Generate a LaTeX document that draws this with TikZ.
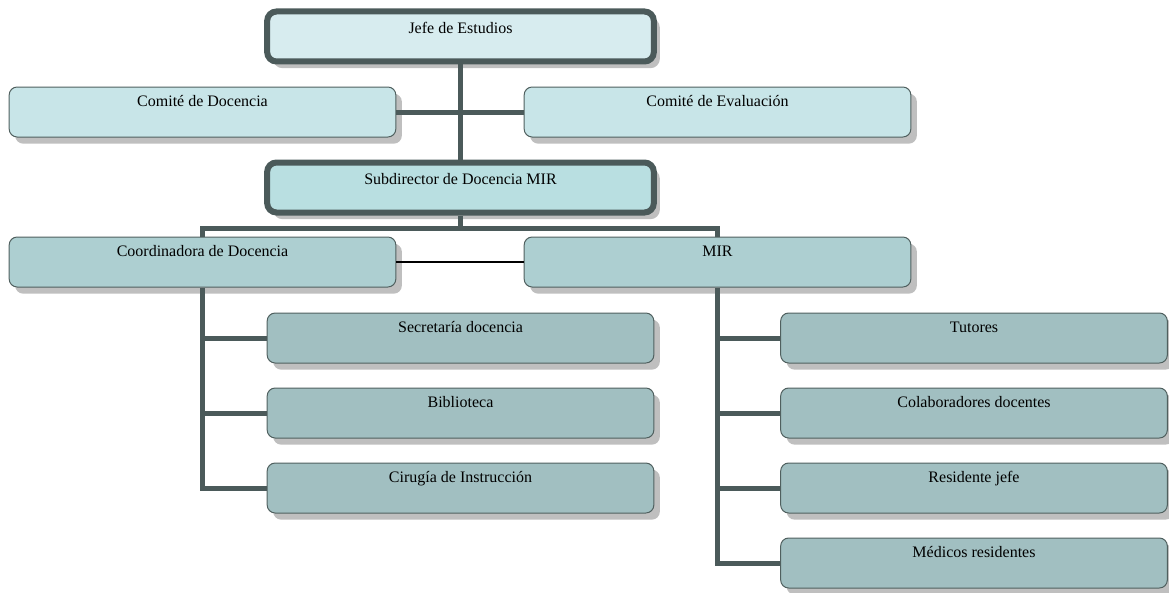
\documentclass[tikz,border=0pt]{standalone}
\usepackage{fontspec}
\setmainfont{Liberation Serif}
\usetikzlibrary{shadows}

\begin{document}
\begin{tikzpicture}[x=0.75pt,y=-0.75pt,
  box/.style={draw=frame,line width=0.75pt,rounded corners=6pt,
    minimum width=290pt,minimum height=37.5pt,inner xsep=0pt,inner ysep=4.25pt,
    text height=10pt,text depth=19pt,font=\fontsize{12}{14}\selectfont,
    drop shadow={shadow xshift=4.5pt,shadow yshift=-5pt,fill=black!25,opacity=1}},
  head/.style={box,draw=border,line width=4.5pt,rounded corners=7pt,
    text height=12pt,text depth=17pt},
  link/.style={draw=border,line width=3.75pt}]
  \definecolor{frame}{HTML}{50605F}
  \definecolor{border}{HTML}{4B5A5A}
  \definecolor{jefe}{HTML}{D7ECEF}
  \definecolor{comite}{HTML}{C8E5E8}
  \definecolor{subdir}{HTML}{B9DFE1}
  \definecolor{coord}{HTML}{ADCFD1}
  \definecolor{area}{HTML}{A1BFC1}

  \useasboundingbox (0,0) rectangle (1169,592);

  \node [head,fill=jefe]   (jefe) at (460.5,36.5) {Jefe de Estudios};
  \node [box,fill=comite]  (cdoc) at (202.5,112)  {Comité de Docencia};
  \node [box,fill=comite]  (ceva) at (717.5,112)  {Comité de Evaluación};
  \node [head,fill=subdir] (sub)  at (460.5,187.5) {Subdirector de Docencia MIR};
  \node [box,fill=coord]   (coord) at (202.5,262) {Coordinadora de Docencia};
  \node [box,fill=coord]   (mir)  at (717.5,262)  {MIR};

  \node [box,fill=area] (secr) at (460.5,338) {Secretaría docencia};
  \node [box,fill=area] (bibl) at (460.5,413) {Biblioteca};
  \node [box,fill=area] (ciru) at (460.5,488) {Cirugía de Instrucción};

  \node [box,fill=area] (tuto) at (974,338) {Tutores};
  \node [box,fill=area] (cola) at (974,413) {Colaboradores docentes};
  \node [box,fill=area] (resj) at (974,488) {Residente jefe};
  \node [box,fill=area] (medi) at (974,563) {Médicos residentes};

  \draw [link] (jefe.south) -- (sub.north);
  \draw [link] (cdoc.east) -- (ceva.west);
  \draw [link] (sub.south) -- ++(0,13) coordinate (split);
  \draw [link] (coord.north) |- (split) -| (mir.north);
  \draw [black,line width=1pt] (coord.east) -- (mir.west);

  \draw [link] (coord.south) |- (ciru.west);
  \foreach \item in {secr,bibl}
    \draw [link] (coord.south |- \item.west) -- (\item.west);

  \draw [link] (mir.south) |- (medi.west);
  \foreach \item in {tuto,cola,resj}
    \draw [link] (mir.south |- \item.west) -- (\item.west);
\end{tikzpicture}
\end{document}
